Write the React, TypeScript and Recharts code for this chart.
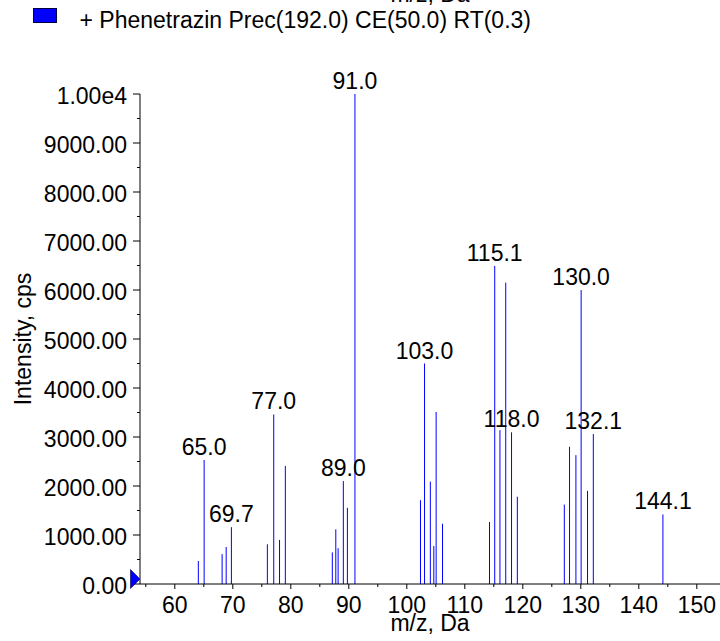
import { Bar, BarChart, Label, LabelList, XAxis, YAxis } from "recharts";

const FONTE = '"Liberation Sans", Arial, sans-serif';
const TAM = 23;
const AZUL = "#0000ff";

const mz = [
  64.0, 65.0, 68.1, 68.8, 69.7, 75.9, 77.0, 78.0, 79.0, 87.1, 87.7, 88.1, 89.0, 89.7, 91.0, 102.3, 103.0,
  104.0, 104.6, 105.0, 106.1, 114.2, 115.1, 116.0, 117.0, 118.0, 119.0, 127.1, 128.0, 129.1, 130.0, 131.1,
  132.1, 144.1,
];
const intensidade = [
  470, 2530, 610, 755, 1160, 810, 3460, 900, 2410, 645, 1115, 730, 2100, 1555, 10000, 1710, 4500, 2090, 775,
  3510, 1230, 1265, 6490, 3140, 6150, 3095, 1780, 1620, 2800, 2630, 6000, 1900, 3060, 1420,
];
const picosRotulados = [65.0, 69.7, 77.0, 89.0, 91.0, 103.0, 115.1, 118.0, 130.0, 132.1, 144.1];

const ticksX = [55, 60, 65, 70, 75, 80, 85, 90, 95, 100, 105, 110, 115, 120, 125, 130, 135, 140, 145, 150];
const ticksY = [
  0, 500, 1000, 1500, 2000, 2500, 3000, 3500, 4000, 4500, 5000, 5500, 6000, 6500, 7000, 7500, 8000, 8500,
  9000, 9500, 10000,
];

const legenda = "+ Phenetrazin Prec(192.0) CE(50.0) RT(0.3)";

const dados = mz.map((m, i) => ({
  mz: m,
  intensidade: intensidade[i],
  rotulo: picosRotulados.includes(m) ? m.toFixed(1) : "",
}));

function formatarY(v: number) {
  return v === 10000 ? "1.00e4" : v.toFixed(2);
}

function TickY({ x, y, payload }: any) {
  const v = payload.value as number;
  const principal = v % 1000 === 0;
  return (
    <g>
      <line x1={x - (principal ? 7 : 3)} x2={x} y1={y} y2={y} stroke="#000" />
      {principal && (
        <text x={x - 13} y={y + 9.5} textAnchor="end" fontSize={TAM} fontFamily={FONTE} fill="#000">
          {formatarY(v)}
        </text>
      )}
      {v === 0 && (
        <polygon
          points={`${x - 9.5},${y - 14.5} ${x - 9.5},${y + 4.5} ${x},${y - 5}`}
          fill={AZUL}
          stroke="#000040"
          strokeWidth={0.6}
        />
      )}
    </g>
  );
}

function TickX({ x, y, payload }: any) {
  const v = payload.value as number;
  const principal = v % 10 === 0;
  return (
    <g>
      <line x1={x} x2={x} y1={y} y2={y + (principal ? 5 : 3)} stroke="#000" />
      {principal && (
        <text x={x} y={y + 29} textAnchor="middle" fontSize={TAM} fontFamily={FONTE} fill="#000">
          {v}
        </text>
      )}
    </g>
  );
}

function Pico({ x, y, width, height }: any) {
  const cx = x + width / 2;
  return <line x1={cx} x2={cx} y1={y} y2={y + height} stroke={AZUL} strokeWidth={1} />;
}

function RotuloPico({ x, y, width, value }: any) {
  if (!value) return null;
  return (
    <text x={x + width / 2} y={y - 5} textAnchor="middle" fontSize={TAM} fontFamily={FONTE} fill="#000">
      {value}
    </text>
  );
}

export default function App() {
  return (
    <div style={{ position: "absolute", left: 0, top: 0, width: 720, height: 641, background: "#fff" }}>
      <BarChart width={720} height={641} data={dados} margin={{ top: 94, right: 0, bottom: 0, left: 0 }}>
        <XAxis
          dataKey="mz"
          type="number"
          domain={[54, 154]}
          allowDataOverflow
          ticks={ticksX}
          interval={0}
          height={57}
          tickSize={0}
          tickMargin={0}
          tickLine={false}
          tick={<TickX />}
          axisLine={{ stroke: "#000" }}
        >
          <Label
            content={({ viewBox }: any) => (
              <text
                x={viewBox.x + viewBox.width / 2}
                y={viewBox.y + 47}
                textAnchor="middle"
                fontSize={TAM}
                fontFamily={FONTE}
                fill="#000"
              >
                m/z, Da
              </text>
            )}
          />
        </XAxis>
        <YAxis
          type="number"
          domain={[0, 10000]}
          ticks={ticksY}
          interval={0}
          width={140}
          tickSize={0}
          tickMargin={0}
          tickLine={false}
          tick={<TickY />}
          axisLine={{ stroke: "#000" }}
        >
          <Label
            content={({ viewBox }: any) => {
              const cy = viewBox.y + viewBox.height / 2;
              return (
                <text
                  x={31}
                  y={cy}
                  transform={`rotate(-90 31 ${cy})`}
                  textAnchor="middle"
                  fontSize={TAM}
                  fontFamily={FONTE}
                  fill="#000"
                >
                  Intensity, cps
                </text>
              );
            }}
          />
        </YAxis>
        <Bar dataKey="intensidade" barSize={1} shape={<Pico />} isAnimationActive={false}>
          <LabelList dataKey="rotulo" content={<RotuloPico />} />
        </Bar>
      </BarChart>
      <svg
        width={720}
        height={60}
        style={{ position: "absolute", left: 0, top: 0, pointerEvents: "none" }}
      >
        <text x={430} y={2} textAnchor="middle" fontSize={TAM} fontFamily={FONTE} fill="#000">
          m/z, Da
        </text>
        <rect x={33.5} y={8.5} width={23} height={14} fill={AZUL} stroke="#000040" />
        <text x={79.5} y={28} fontSize={TAM} fontFamily={FONTE} fill="#000">
          {legenda}
        </text>
      </svg>
    </div>
  );
}
